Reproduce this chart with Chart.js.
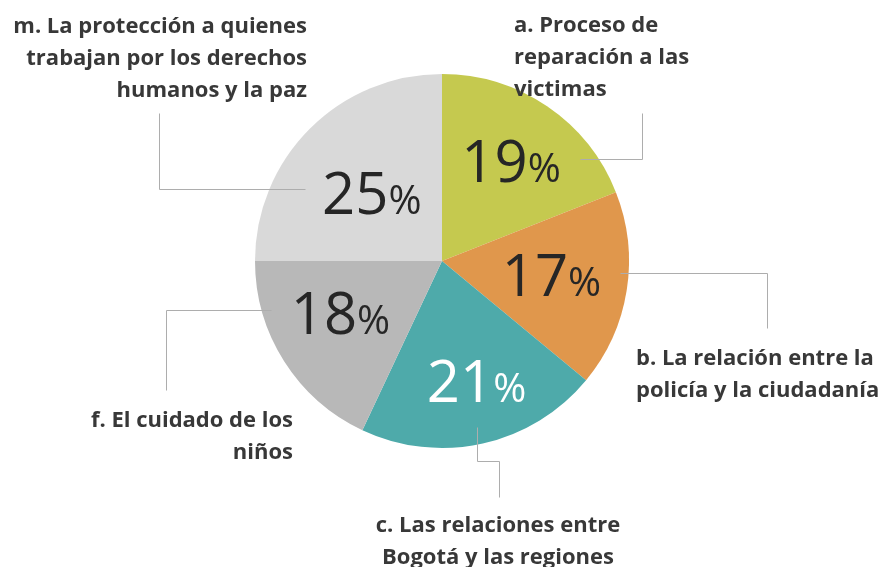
<!DOCTYPE html>
<html>
<head>
<meta charset="utf-8">
<script src="https://cdn.jsdelivr.net/npm/chart.js@4.4.0/dist/chart.umd.min.js"></script>
<style>
    html, body { margin: 0; padding: 0; background: #ffffff; }
    #chartTemas { display: block; }
</style>
</head>
<body>
<canvas id="chartTemas" width="883" height="567"></canvas>
<script>
// categories, clockwise from 12 o'clock
const categories = [
    ['a. Proceso de', 'reparación a las', 'victimas'],
    ['b. La relación entre la', 'policía y la ciudadanía'],
    ['c. Las relaciones entre', 'Bogotá y las regiones'],
    ['f. El cuidado de los', 'niños'],
    ['m. La protección a quienes', 'trabajan por los derechos', 'humanos y la paz']
]
const shares = [19, 17, 21, 18, 25]
const sliceColors = ['#C5C94F', '#E0974C', '#4EAAAA', '#B8B8B8', '#D9D9D9']
const valueColors = ['#262626', '#262626', '#FFFFFF', '#262626', '#262626']

// where each percentage sits inside its slice (fraction of radius, turn in degrees)
const valuePlace = [
    { dist: 0.65, turn: 0.4 },
    { dist: 0.59, turn: -1.7 },
    { dist: 0.67, turn: -3.4 },
    { dist: 0.61, turn: 5.3 },
    { dist: 0.52, turn: -1.2 }
]

// callout text and leader lines, offsets from the pie centre
const calloutPlace = [
    { x: 72, y: -229, align: 'left', lines: [[138, -102], [200, -102], [200, -148]] },
    { x: 194, y: 104, align: 'left', lines: [[178, 12], [325, 12], [325, 67]] },
    { x: 56, y: 271, align: 'center', lines: [[35, 166], [35, 200], [57, 200], [57, 236]] },
    { x: -149, y: 166, align: 'right', lines: [[-171, 49], [-276, 49], [-276, 129]] },
    { x: -135, y: -228, align: 'right', lines: [[-137, -72], [-283, -72], [-283, -148]] }
]

const lineGap = 32

const calloutPlugin = {
    id: 'callouts',
    afterDatasetsDraw(chart) {
        const ctx = chart.ctx
        const meta = chart.getDatasetMeta(0)
        const total = shares.reduce((a, b) => a + b, 0)
        ctx.save()
        meta.data.forEach((arc, i) => {
            const cx = arc.x
            const cy = arc.y
            const r = arc.outerRadius

            // leader line
            const pl = calloutPlace[i]
            ctx.strokeStyle = '#ADADAD'
            ctx.lineWidth = 1
            ctx.beginPath()
            pl.lines.forEach((p, k) => {
                const px = Math.round(cx + p[0]) + 0.5
                const py = Math.round(cy + p[1]) + 0.5
                if (k == 0) ctx.moveTo(px, py)
                else ctx.lineTo(px, py)
            })
            ctx.stroke()

            // category text
            ctx.fillStyle = '#383838'
            ctx.font = 'bold 22px "Open Sans"'
            ctx.textAlign = pl.align
            ctx.textBaseline = 'alphabetic'
            categories[i].forEach((line, k) => {
                ctx.fillText(line, cx + pl.x, cy + pl.y + k * lineGap)
            })

            // percentage
            const vp = valuePlace[i]
            const mid = (arc.startAngle + arc.endAngle) / 2 + vp.turn * Math.PI / 180
            const vx = cx + Math.cos(mid) * r * vp.dist
            const vy = cy + Math.sin(mid) * r * vp.dist
            const pct = Math.round(shares[i] / total * 100)
            const bigFont = '400 58px "Open Sans"'
            const smallFont = '400 40px "Open Sans"'
            ctx.font = bigFont
            const wBig = ctx.measureText(String(pct)).width
            ctx.font = smallFont
            const wSmall = ctx.measureText('%').width
            const left = vx - (wBig + wSmall) / 2
            const base = vy + 58 * 0.714 / 2
            ctx.textAlign = 'left'
            ctx.fillStyle = valueColors[i]
            ctx.font = bigFont
            ctx.fillText(String(pct), left, base)
            ctx.font = smallFont
            ctx.fillText('%', left + wBig, base)
        })
        ctx.restore()
    }
}

function displayPie(ctx) {
    const config = {
        type: 'pie',
        data: {
            labels: categories.map(c => c.join(' ')),
            datasets: [{
                data: shares,
                backgroundColor: sliceColors,
                borderWidth: 0
            }]
        },
        options: {
            responsive: false,
            animation: false,
            devicePixelRatio: 1,
            layout: {
                padding: { top: 74, bottom: 119, left: 255, right: 254 }
            },
            plugins: {
                legend: { display: false },
                tooltip: { enabled: false }
            }
        },
        plugins: [calloutPlugin]
    };
    return new Chart(ctx, config);
}

window.onload = function() {
    displayPie(document.getElementById('chartTemas'));
}
</script>
</body>
</html>
